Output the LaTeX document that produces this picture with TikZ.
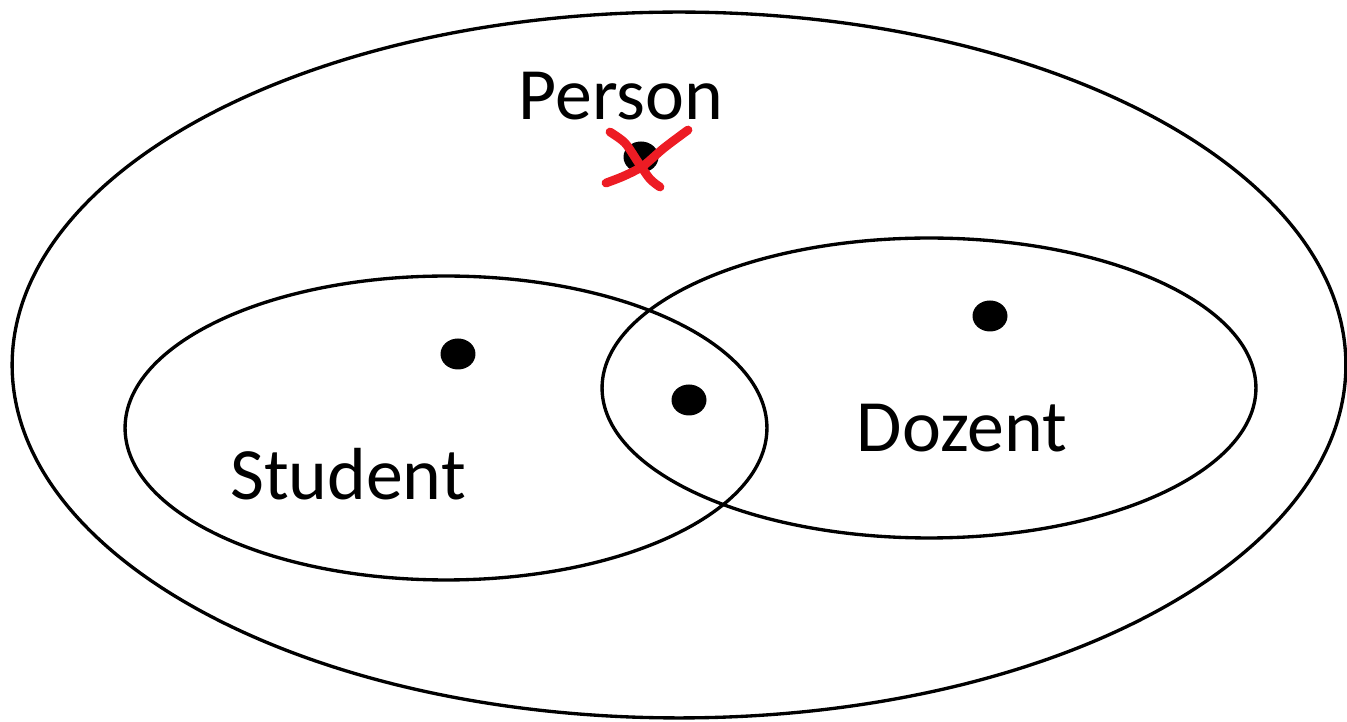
\documentclass[tikz,border=0pt]{standalone}
\usepackage{fontspec}
\setmainfont{Carlito}
\usepackage{tikz}
\usetikzlibrary{positioning,shapes.geometric}
\definecolor{strike}{RGB}{237,28,36}

\begin{document}
\begin{tikzpicture}[x=0.02cm, y=-0.02cm, font=\fontsize{42}{50}\selectfont,
      set/.style={draw, ellipse, line width=1.9pt, inner sep=0pt},
      dot/.style={fill, ellipse, inner sep=0pt, minimum width=0.7cm, minimum height=0.62cm},
      cross/.style={draw=strike, line width=5pt, line cap=round, line join=round}]
    \useasboundingbox (0,0) rectangle (1347,722);
    % sets
    \node[set, minimum width=26.68cm, minimum height=14.12cm] (person) at (679,365) {};
    \node[set, minimum width=12.84cm, minimum height=6.08cm]  (student) at (446,428) {};
    \node[set, minimum width=13.08cm, minimum height=6.0cm]   (dozent) at (929,388) {};
    % labels
    \node[anchor=base, inner sep=0pt] (person-lab)  at (621,120) {Person};
    \node[anchor=base, inner sep=0pt] (student-lab) at (348,500) {Student};
    \node[anchor=base, inner sep=0pt] (dozent-lab)  at (962,452) {Dozent};
    % elements
    \node[dot] (p0) at (641,157) {};
    \node[dot] (s0) at (458,354) {};
    \node[dot] (sd) at (689,400) {};
    \node[dot] (d0) at (990,316) {};
    % struck out
    \draw[cross] plot[smooth] coordinates {(606,183) (624,176) (643,166) (664,148) (688,130)};
    \draw[cross] plot[smooth] coordinates {(610,132) (625,143) (638,162) (650,179) (660,187)};
  \end{tikzpicture}
\end{document}
